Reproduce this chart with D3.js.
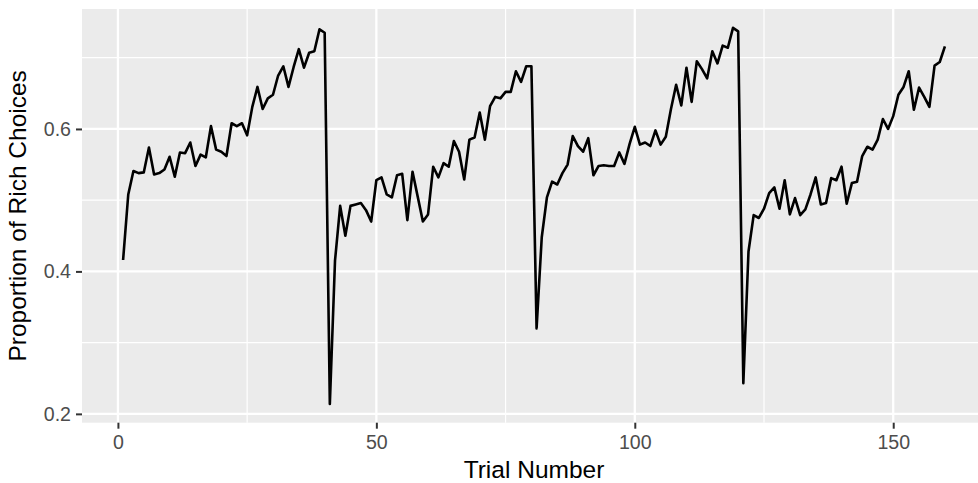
<!DOCTYPE html>
<html>
<head>
<meta charset="utf-8">
<script src="https://cdn.jsdelivr.net/npm/d3@7"></script>
<style>
  html, body { margin: 0; padding: 0; background: #ffffff; }
  svg { display: block; font-family: "Liberation Sans", Arial, Helvetica, sans-serif; }
</style>
</head>
<body>
<svg id="chart" width="978" height="483"></svg>
<script>
// Trial numbers 1..160 and the proportion of rich choices on each trial
const trials = d3.range(1, 161);
const richProportion = [
  0.416, 0.508, 0.541, 0.538, 0.539, 0.574, 0.536, 0.538, 0.543, 0.561,
  0.533, 0.567, 0.566, 0.581, 0.548, 0.564, 0.560, 0.604, 0.571, 0.568,
  0.562, 0.608, 0.604, 0.608, 0.591, 0.631, 0.659, 0.628, 0.643, 0.648,
  0.675, 0.688, 0.659, 0.687, 0.712, 0.686, 0.707, 0.709, 0.740, 0.735,
  0.214, 0.415, 0.492, 0.450, 0.492, 0.494, 0.496, 0.486, 0.470, 0.528,
  0.532, 0.508, 0.504, 0.535, 0.537, 0.472, 0.540, 0.505, 0.470, 0.480,
  0.547, 0.532, 0.552, 0.547, 0.583, 0.568, 0.529, 0.585, 0.588, 0.623,
  0.585, 0.632, 0.645, 0.643, 0.652, 0.652, 0.681, 0.666, 0.688, 0.688,
  0.320, 0.448, 0.504, 0.526, 0.522, 0.538, 0.550, 0.590, 0.576, 0.568,
  0.587, 0.535, 0.548, 0.549, 0.548, 0.548, 0.567, 0.551, 0.579, 0.603,
  0.578, 0.581, 0.576, 0.598, 0.578, 0.589, 0.628, 0.662, 0.633, 0.686,
  0.638, 0.695, 0.684, 0.671, 0.709, 0.692, 0.717, 0.714, 0.742, 0.737,
  0.243, 0.428, 0.479, 0.475, 0.488, 0.510, 0.518, 0.488, 0.528, 0.480,
  0.503, 0.479, 0.487, 0.508, 0.532, 0.494, 0.496, 0.531, 0.528, 0.547,
  0.495, 0.524, 0.526, 0.562, 0.575, 0.571, 0.585, 0.614, 0.600, 0.618,
  0.648, 0.659, 0.681, 0.627, 0.658, 0.645, 0.631, 0.689, 0.694, 0.716
];
const xMajorTicks = [0, 50, 100, 150];
const xMinorTicks = [25, 75, 125];
const yMajorTicks = [0.2, 0.4, 0.6];
const yMinorTicks = [0.3, 0.5, 0.7];
const xTitle = "Trial Number";
const yTitle = "Proportion of Rich Choices";

const data = trials.map((t, i) => ({ t, v: richProportion[i] }));

const svg = d3.select("#chart");
const W = 978, H = 483;
const panel = { left: 82, right: 986, top: 9, bottom: 422.7 };

// ggplot-style 5% expansion of the data range
function expand(ext) {
  const pad = (ext[1] - ext[0]) * 0.05;
  return [ext[0] - pad, ext[1] + pad];
}

const x = d3.scaleLinear()
  .domain(expand(d3.extent(trials)))
  .range([panel.left, panel.right]);
const y = d3.scaleLinear()
  .domain(expand(d3.extent(richProportion)))
  .range([panel.bottom, panel.top]);

svg.append("rect").attr("width", W).attr("height", H).attr("fill", "#ffffff");

// panel background
svg.append("rect")
  .attr("x", panel.left).attr("y", panel.top)
  .attr("width", panel.right - panel.left)
  .attr("height", panel.bottom - panel.top)
  .attr("fill", "#EBEBEB");

const grid = svg.append("g");
grid.selectAll(".xminor").data(xMinorTicks).join("line")
  .attr("x1", d => x(d)).attr("x2", d => x(d))
  .attr("y1", panel.top).attr("y2", panel.bottom)
  .attr("stroke", "#ffffff").attr("stroke-width", 1.2);
grid.selectAll(".yminor").data(yMinorTicks).join("line")
  .attr("y1", d => y(d)).attr("y2", d => y(d))
  .attr("x1", panel.left).attr("x2", panel.right)
  .attr("stroke", "#ffffff").attr("stroke-width", 1.2);
grid.selectAll(".xmajor").data(xMajorTicks).join("line")
  .attr("x1", d => x(d)).attr("x2", d => x(d))
  .attr("y1", panel.top).attr("y2", panel.bottom)
  .attr("stroke", "#ffffff").attr("stroke-width", 2.3);
grid.selectAll(".ymajor").data(yMajorTicks).join("line")
  .attr("y1", d => y(d)).attr("y2", d => y(d))
  .attr("x1", panel.left).attr("x2", panel.right)
  .attr("stroke", "#ffffff").attr("stroke-width", 2.3);

// data line
svg.append("path")
  .datum(data)
  .attr("fill", "none")
  .attr("stroke", "#000000")
  .attr("stroke-width", 2.6)
  .attr("stroke-linejoin", "round")
  .attr("d", d3.line().x(d => x(d.t)).y(d => y(d.v)));

// axes
const xAxis = svg.append("g")
  .attr("transform", `translate(0,${panel.bottom})`)
  .call(d3.axisBottom(x).tickValues(xMajorTicks).tickSize(6).tickPadding(6).tickFormat(d3.format("d")));
const yAxis = svg.append("g")
  .attr("transform", `translate(${panel.left},0)`)
  .call(d3.axisLeft(y).tickValues(yMajorTicks).tickSize(6).tickPadding(5).tickFormat(d3.format(".1f")));

[xAxis, yAxis].forEach(g => {
  g.select(".domain").remove();
  g.selectAll(".tick line").attr("stroke", "#333333").attr("stroke-width", 2);
  g.selectAll(".tick text")
    .attr("fill", "#4D4D4D")
    .style("font-size", "19.6px")
    .style("font-family", "'Liberation Sans', Arial, Helvetica, sans-serif");
});

// axis titles
svg.append("text")
  .attr("x", (panel.left + panel.right) / 2)
  .attr("y", 477.5)
  .attr("text-anchor", "middle")
  .attr("fill", "#000000")
  .style("font-size", "24.5px")
  .text(xTitle);

svg.append("text")
  .attr("transform", `translate(26,${(panel.top + panel.bottom) / 2}) rotate(-90)`)
  .attr("text-anchor", "middle")
  .attr("fill", "#000000")
  .style("font-size", "24.5px")
  .text(yTitle);
</script>
</body>
</html>
